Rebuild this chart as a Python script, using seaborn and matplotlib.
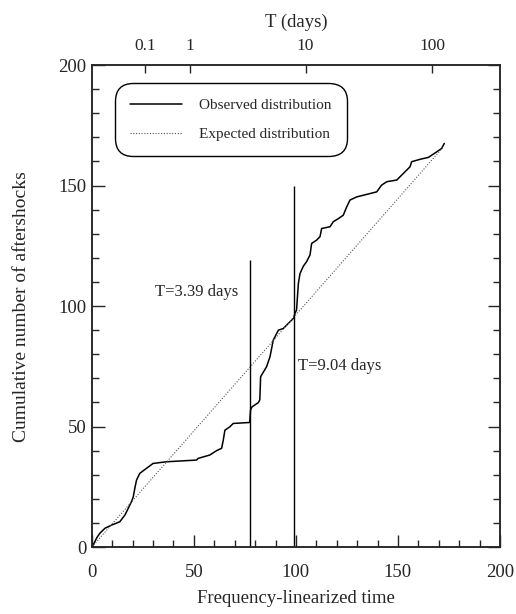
import pandas as pd
import seaborn as sns
import matplotlib.pyplot as plt
from matplotlib.ticker import MultipleLocator

# ==========================================
# DATA
# ==========================================
obs_x = [0, 0.6, 2.5, 3.9, 6.4, 9.6, 13.7, 16.2, 17.8, 19.5, 20.3, 21.2, 21.9,
         23.5, 26.8, 30, 36.6, 51.3, 52.1, 57.8, 61.1, 63.6, 64.4, 65.2, 67.6,
         69.3, 77.3, 77.8, 78.5, 81.5, 82.3, 82.7, 85.6, 87.3, 88.9, 91.4, 93.8,
         97.1, 98.9, 99.5, 100.3, 101.2, 102, 103.6, 105.2, 106.9, 107.7, 110.2,
         111.8, 112.6, 116.7, 118.3, 120.8, 123.2, 124.9, 126.5, 129.8, 139.6,
         142, 144.5, 149.4, 152.6, 155.9, 156.7, 160.8, 164.9, 169, 171.4, 172.7]
obs_y = [0, 0.8, 4, 5.7, 7.8, 9.1, 10.5, 13.3, 16, 19, 20.9, 25, 27.8,
         30.6, 32.7, 34.7, 35.4, 36.1, 36.8, 38.2, 40, 41, 44.4, 48.5, 49.9,
         51.3, 51.7, 57, 58.2, 59.9, 61, 70.7, 74.8, 79, 85.9, 90, 90.7,
         93.5, 95, 97, 98.3, 109.4, 113.5, 116.5, 118.4, 121.2, 126, 127.4,
         128.8, 132.2, 132.9, 135, 136.3, 137.7, 141.2, 144, 145.3, 147.4,
         150.2, 151.6, 152.3, 155, 157.8, 159.9, 160.9, 161.7, 164, 165.4, 167.5]

exp_x = [0, 172.2]
exp_y = [0, 166]

# change points marked with vertical lines
cut_x = [77.5, 99]
cut_top = [119, 150]
cut_labels = ["T=3.39 days", "T=9.04 days"]
cut_label_x = [31, 101]
cut_label_y = [106, 75]

# top axis: real time in days at its frequency-linearized position
T_pos = [26, 48, 104.7, 166.8]
T_labels = ["0.1", "1", "10", "100"]

df_obs = pd.DataFrame({"x": obs_x, "y": obs_y})
df_exp = pd.DataFrame({"x": exp_x, "y": exp_y})

# ==========================================
# PLOT
# ==========================================
sns.set_style("ticks")
plt.rcParams["font.family"] = ["Liberation Serif", "DejaVu Serif"]
plt.rcParams["axes.linewidth"] = 1.1

fig = plt.figure(figsize=(5.16, 6.14), dpi=100)
ax = fig.add_axes([0.178, 0.109, 0.791, 0.785])

sns.lineplot(data=df_obs, x="x", y="y", ax=ax, sort=False, estimator=None,
             color="black", linewidth=1.1, label="Observed distribution")
sns.lineplot(data=df_exp, x="x", y="y", ax=ax, sort=False, estimator=None,
             color="#555555", linewidth=0.8, linestyle=(0, (1, 1.5)),
             label="Expected distribution")

ax.vlines(cut_x, 0, cut_top, color="black", linewidth=1.0)
for tx, ty, s in zip(cut_label_x, cut_label_y, cut_labels):
    ax.text(tx, ty, s, fontsize=12, va="center", ha="left")

ax.set_xlim(0, 200)
ax.set_ylim(0, 200)
ax.xaxis.set_major_locator(MultipleLocator(50))
ax.xaxis.set_minor_locator(MultipleLocator(10))
ax.yaxis.set_major_locator(MultipleLocator(50))
ax.yaxis.set_minor_locator(MultipleLocator(10))
ax.tick_params(which="both", direction="in", right=True, top=False,
               labelsize=13.5, width=1.0)
ax.tick_params(which="major", length=9)
ax.tick_params(which="minor", length=5)
ax.tick_params(axis="x", pad=12)
ax.tick_params(axis="y", pad=4)

ax.set_xlabel("Frequency-linearized time", fontsize=13.5, labelpad=7)
ax.set_ylabel("Cumulative number of aftershocks", fontsize=14, labelpad=20)

ax2 = ax.twiny()
ax2.set_xlim(0, 200)
ax2.set_xticks(T_pos)
ax2.set_xticklabels(T_labels)
ax2.tick_params(axis="x", direction="in", length=6, width=1.0,
                labelsize=12.5, pad=8)
ax2.set_xlabel("T (days)", fontsize=13.5, labelpad=8)

leg = ax.legend(loc="upper left", bbox_to_anchor=(0.056, 0.963),
                borderaxespad=0, fontsize=11, handlelength=3.4,
                handletextpad=1.1, labelspacing=1.0, borderpad=1.0,
                frameon=True, fancybox=True)
frame = leg.get_frame()
frame.set_boxstyle("round,pad=0,rounding_size=1.2")
frame.set_edgecolor("black")
frame.set_linewidth(1.0)
frame.set_alpha(1)

plt.savefig("out.png", dpi=100)
